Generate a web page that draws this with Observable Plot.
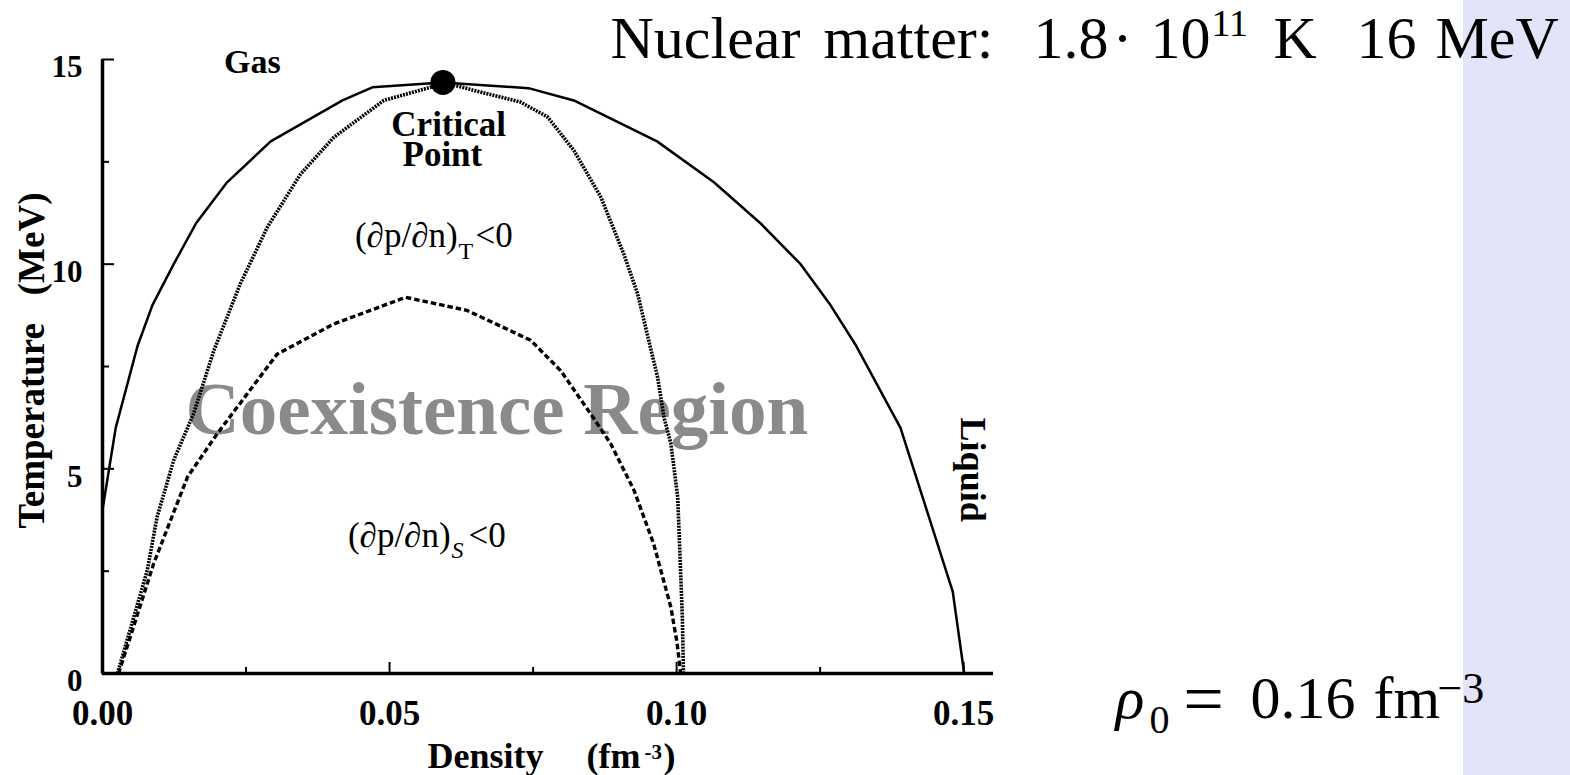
<!DOCTYPE html>
<html>
<head>
<meta charset="utf-8">
<script src="https://cdn.jsdelivr.net/npm/d3@7"></script>
<script src="https://cdn.jsdelivr.net/npm/@observablehq/plot@0.6"></script>
<style>
  html, body { margin: 0; padding: 0; background: #fff; }
  #wrap { position: relative; width: 1570px; height: 775px; overflow: hidden; }
  #strip { position: absolute; left: 1463px; top: 0; width: 107px; height: 775px; background: #e3e3f9; }
  #chart { position: absolute; left: 0; top: 0; }
</style>
</head>
<body>
<div id="wrap"><div id="strip"></div><div id="chart"></div></div>
<script>
// Liquid–gas phase diagram of nuclear matter: temperature (MeV) vs density (fm^-3)

// Coexistence boundary (binodal), [density, temperature]
const binodal = [
  [0, 0], [0, 4], [0.0023, 6], [0.0061, 8], [0.0087, 9], [0.0124, 10], [0.0163, 11],
  [0.0217, 12], [0.0293, 13], [0.0418, 14], [0.047, 14.32], [0.0593, 14.44],
  [0.0742, 14.3], [0.0821, 14.0], [0.0966, 13.0], [0.1065, 12.0], [0.1146, 11.0],
  [0.1216, 10.0], [0.1268, 9.0], [0.1313, 8.0], [0.139, 6.0], [0.1481, 2.0], [0.1501, 0]
];

// Isothermal spinodal, (dp/dn)_T = 0
const spinodalT = [
  [0.0026, 0], [0.0078, 2.52], [0.0095, 3.82], [0.0124, 5.21], [0.0159, 6.36],
  [0.0194, 7.89], [0.024, 9.52], [0.0287, 10.9], [0.0345, 12.2], [0.0403, 13.1],
  [0.049, 14.0], [0.0571, 14.32], [0.0593, 14.44], [0.0728, 13.96], [0.0775, 13.6],
  [0.0821, 12.78], [0.0868, 11.64], [0.0908, 10.25], [0.0932, 9.28], [0.0967, 7.23],
  [0.0978, 6.26], [0.099, 5.62], [0.1002, 4.3], [0.101, 1.38], [0.1012, 0]
];

// Isentropic spinodal, (dp/dn)_S = 0
const spinodalS = [
  [0.0028, 0], [0.0089, 2.68], [0.0148, 4.8], [0.02, 5.86], [0.0304, 7.8],
  [0.0403, 8.54], [0.0528, 9.19], [0.0635, 8.87], [0.0746, 8.14], [0.0798, 7.4],
  [0.085, 6.35], [0.0885, 5.62], [0.0926, 4.47], [0.096, 3.17], [0.099, 1.62],
  [0.1001, 0.73], [0.1007, 0]
];

const criticalPoint = [[0.0593, 14.44]];

const xMajorTicks = [0, 0.05, 0.10, 0.15];
const xMinorTicks = [0.025, 0.075, 0.125];
const yMajorTicks = [0, 5, 10, 15];
const yMinorTicks = [2.5, 7.5, 12.5];

const serif = "'Liberation Serif', 'Times New Roman', Times, serif";
const px = d => d[0];
const py = d => d[1];

// Text placed relative to the top-left corner of the plot frame
function note(text, dx, dy, opts = {}) {
  return Plot.text([text], {
    frameAnchor: "top-left", dx, dy,
    textAnchor: "start", lineAnchor: "bottom",
    fontFamily: serif, fontSize: 60, fill: "black",
    ...opts
  });
}

const chart = Plot.plot({
  width: 1570,
  height: 775,
  marginLeft: 102,
  marginRight: 577,
  marginTop: 59,
  marginBottom: 102,
  x: {domain: [0, 0.1552]},
  y: {domain: [0, 15]},
  style: {fontFamily: serif, background: "transparent", color: "black", overflow: "visible"},
  marks: [
    // large region name sits beneath the curves
    Plot.text(["Coexistence Region"], {
      x: [0.0687], y: [5.86], lineAnchor: "bottom", textAnchor: "middle",
      fontSize: 75, fontWeight: "bold", fill: "#8a8a8a"
    }),

    // axes: thick frame lines, inward ticks, bold labels
    Plot.ruleX([0], {strokeWidth: 3.5}),
    Plot.ruleY([0], {strokeWidth: 3.5}),
    Plot.axisX(xMajorTicks, {anchor: "bottom", tickSize: -11, strokeWidth: 2, fill: "none", label: null}),
    Plot.axisX(xMinorTicks, {anchor: "bottom", tickSize: -6, strokeWidth: 2, fill: "none", label: null}),
    Plot.axisX(xMajorTicks, {
      anchor: "bottom", tickSize: 0, tickPadding: 27, tickFormat: d3.format(".2f"),
      fontSize: 35, fontWeight: "bold", label: null
    }),
    Plot.axisY(yMajorTicks, {anchor: "left", tickSize: -12, strokeWidth: 2, fill: "none", label: null}),
    Plot.axisY(yMinorTicks, {anchor: "left", tickSize: -7, strokeWidth: 2, fill: "none", label: null}),
    Plot.axisY(yMajorTicks, {
      anchor: "left", tickSize: 0, tickPadding: 20, dy: 8,
      fontSize: 31, fontWeight: "bold", label: null
    }),

    // curves (butt caps so the dash gaps stay open)
    Plot.line(spinodalS, {
      x: px, y: py, stroke: "black", strokeWidth: 3.4,
      strokeDasharray: "5.5 3", strokeLinecap: "butt", strokeLinejoin: "miter"
    }),
    Plot.line(spinodalT, {
      x: px, y: py, stroke: "black", strokeWidth: 3.6,
      strokeDasharray: "2 1.1", strokeLinecap: "butt", strokeLinejoin: "miter"
    }),
    Plot.line(binodal, {x: px, y: py, stroke: "black", strokeWidth: 2.5}),
    Plot.dot(criticalPoint, {x: px, y: py, r: 12.5, fill: "black"}),

    // in-chart annotations
    Plot.text(["Gas"], {x: [0.0261], y: [14.68], lineAnchor: "bottom", fontSize: 34, fontWeight: "bold"}),
    Plot.text(["Critical"], {x: [0.0603], y: [13.12], lineAnchor: "bottom", fontSize: 35, fontWeight: "bold"}),
    Plot.text(["Point"], {x: [0.0592], y: [12.41], lineAnchor: "bottom", fontSize: 35, fontWeight: "bold"}),
    Plot.text(["(∂p/∂n)"], {x: [0.06185], y: [10.43], textAnchor: "end", lineAnchor: "bottom", fontSize: 35}),
    Plot.text(["T"], {x: [0.06185], y: [10.43], dx: 1, dy: 12, textAnchor: "start", lineAnchor: "bottom", fontSize: 24}),
    Plot.text(["<0"], {x: [0.06185], y: [10.43], dx: 18, textAnchor: "start", lineAnchor: "bottom", fontSize: 35}),
    Plot.text(["(∂p/∂n)"], {x: [0.06063], y: [3.10], textAnchor: "end", lineAnchor: "bottom", fontSize: 35}),
    Plot.text(["S"], {x: [0.06063], y: [3.10], dx: 1, dy: 11, textAnchor: "start", lineAnchor: "bottom", fontSize: 24, fontStyle: "italic"}),
    Plot.text(["<0"], {x: [0.06063], y: [3.10], dx: 18, textAnchor: "start", lineAnchor: "bottom", fontSize: 35}),
    Plot.text(["Liquid"], {x: [0.1516], y: [4.98], rotate: 90, fontSize: 36, fontWeight: "bold"}),

    // axis titles
    Plot.text(["Temperature\u00a0\u00a0\u00a0(MeV)"], {
      frameAnchor: "left", dx: -59, dy: -6, rotate: -90,
      textAnchor: "middle", lineAnchor: "bottom", fontSize: 37, fontWeight: "bold"
    }),
    note("Density", 325, 708, {fontSize: 36, fontWeight: "bold"}),
    note("(fm", 484, 708, {fontSize: 36, fontWeight: "bold"}),
    note("-3", 542, 699, {fontSize: 21, fontWeight: "bold"}),
    note(")", 561, 708, {fontSize: 36, fontWeight: "bold"}),

    // heading: nuclear matter scale
    note("Nuclear", 508, -2),
    note("matter:", 721, -2),
    note("1.8", 931, -2),
    note("·", 1020, -2, {textAnchor: "middle"}),
    note("10", 1048, -2),
    note("11", 1109, -24, {fontSize: 38}),
    note("K", 1171, -2),
    note("16", 1254, -2),
    note("MeV", 1333, -2),

    // saturation density
    note("ρ", 1013, 658, {fontStyle: "italic"}),
    note("0", 1047, 673, {fontSize: 40}),
    note("=", 1101, 663, {fontSize: 72, textAnchor: "middle"}),
    note("0.16", 1148, 658),
    note("fm", 1271, 658),
    note("−3", 1335, 643, {fontSize: 44})
  ]
});

document.getElementById("chart").appendChild(chart);
</script>
</body>
</html>
